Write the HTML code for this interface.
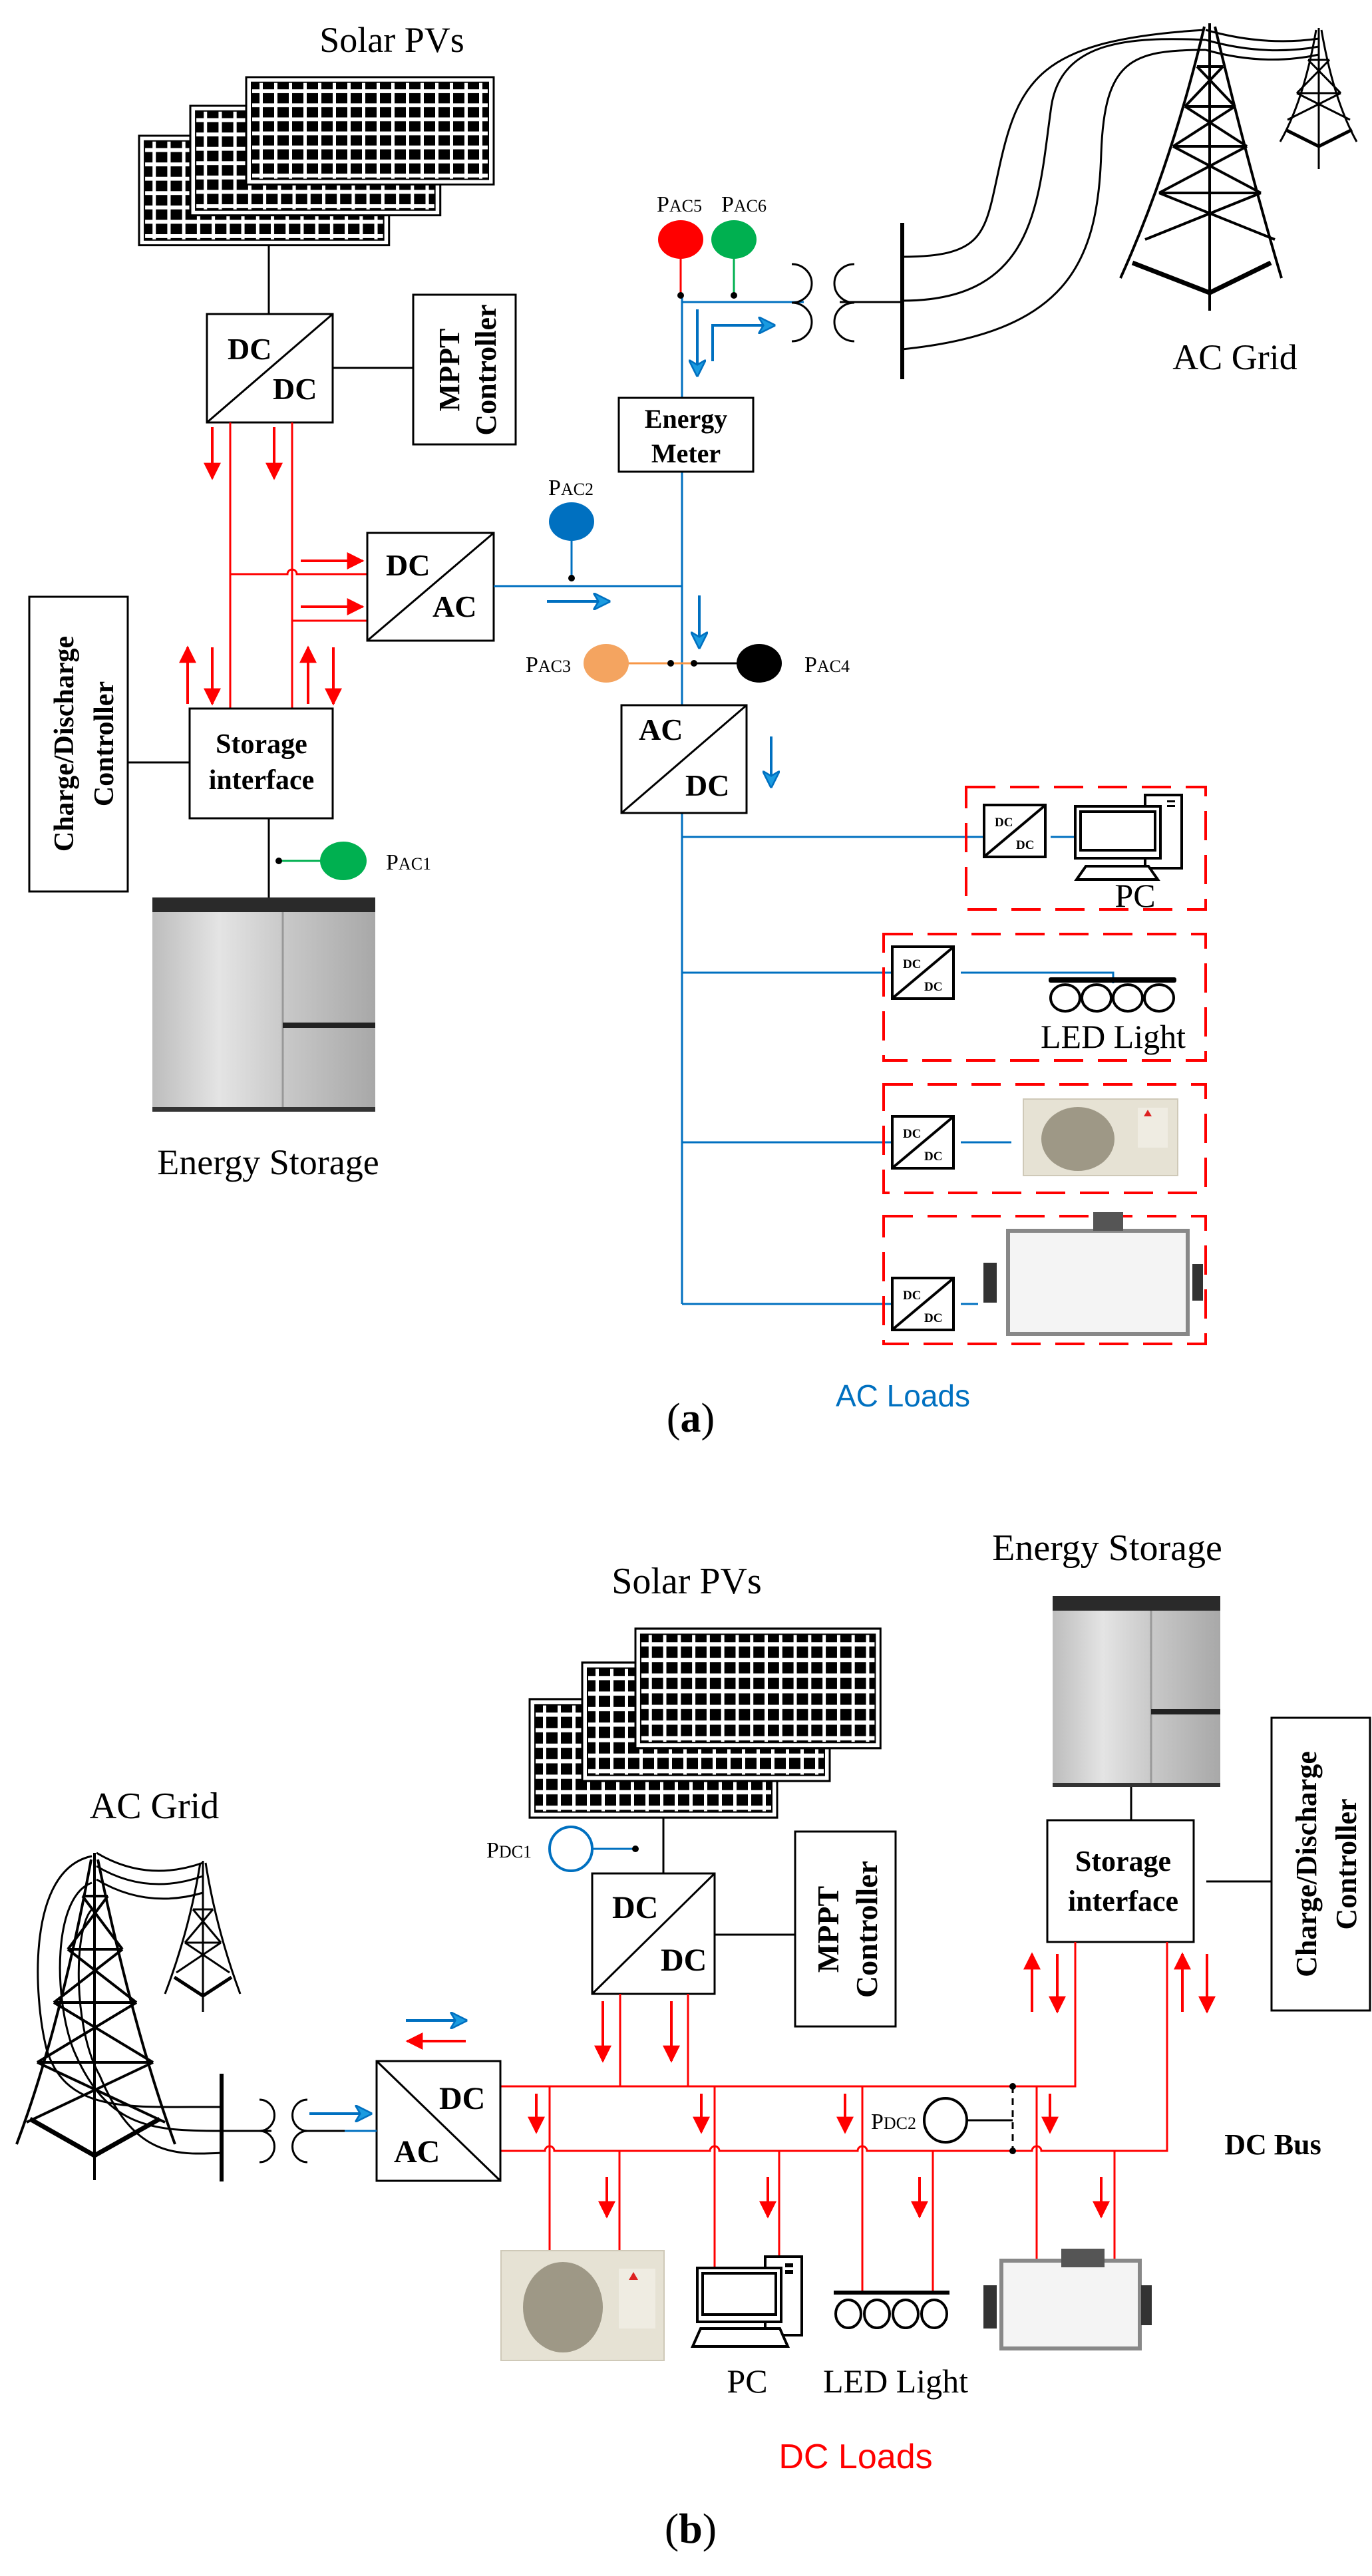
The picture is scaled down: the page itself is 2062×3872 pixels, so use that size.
<!DOCTYPE html>
<html><head><meta charset="utf-8"><style>
html,body{margin:0;padding:0;background:#fff}
svg{display:block}
text{font-family:"Liberation Serif",serif}
</style></head><body>
<svg width="2062" height="3872" viewBox="0 0 2062 3872" xmlns="http://www.w3.org/2000/svg">
<defs>
<pattern id="pv" x="0" y="0" width="22" height="22" patternUnits="userSpaceOnUse"><rect x="3" y="3" width="17" height="16" fill="#000"/></pattern>
<linearGradient id="bat" x1="0" x2="1" y1="0" y2="0"><stop offset="0" stop-color="#bdbdbd"/><stop offset="0.3" stop-color="#e4e4e4"/><stop offset="0.6" stop-color="#c8c8c8"/><stop offset="1" stop-color="#a8a8a8"/></linearGradient>
<marker id="rh" viewBox="0 0 10 10" refX="9" refY="5" markerWidth="26" markerHeight="26" markerUnits="userSpaceOnUse" orient="auto"><path d="M0,0 L10,5 L0,10 Z" fill="#f00"/></marker>
<marker id="bh" viewBox="0 0 10 10" refX="9" refY="5" markerWidth="26" markerHeight="26" markerUnits="userSpaceOnUse" orient="auto"><path d="M0,0 L10,5 L0,10 L3,5 Z" fill="#1a9be0" stroke="#0070c0" stroke-width="1"/></marker>
<g id="pvp"><rect width="372" height="168" fill="#fff" stroke="#000" stroke-width="3"/><rect x="8" y="8" width="356" height="152" fill="url(#pv)" stroke="#000" stroke-width="2"/></g>
<g id="dcs"><rect width="92" height="78" fill="#fff" stroke="#000" stroke-width="4"/><line x1="2" y1="76" x2="90" y2="2" stroke="#000" stroke-width="4"/><text x="16" y="32" font-size="19" font-weight="bold">DC</text><text x="48" y="66" font-size="19" font-weight="bold">DC</text></g>
</defs>

<!-- ========== (a) ========== -->
<text x="589" y="78" font-size="54" text-anchor="middle">Solar PVs</text>
<use href="#pvp" x="209" y="204" transform="translate(209,204) scale(1.01,0.98) translate(-209,-204)"/>
<use href="#pvp" x="286" y="159" transform="translate(286,159) scale(1.01,0.98) translate(-286,-159)"/>
<use href="#pvp" x="370" y="116" transform="translate(370,116) scale(1.0,0.96) translate(-370,-116)"/>
<line x1="404" y1="369" x2="404" y2="472" stroke="#000" stroke-width="3"/>
<rect x="311" y="472" width="189" height="163" fill="#fff" stroke="#000" stroke-width="3"/>
<line x1="311" y1="635" x2="500" y2="472" stroke="#000" stroke-width="3"/>
<text x="342" y="540" font-size="46" font-weight="bold">DC</text>
<text x="410" y="600" font-size="46" font-weight="bold">DC</text>
<line x1="500" y1="553" x2="621" y2="553" stroke="#000" stroke-width="3"/>
<rect x="621" y="443" width="154" height="225" fill="#fff" stroke="#000" stroke-width="3"/>
<text transform="translate(690,556) rotate(-90)" font-size="44" font-weight="bold" text-anchor="middle">MPPT</text>
<text transform="translate(745,556) rotate(-90)" font-size="44" font-weight="bold" text-anchor="middle">Controller</text>

<g stroke="#f00" stroke-width="3" fill="none">
<line x1="346" y1="635" x2="346" y2="1065"/>
<line x1="439" y1="635" x2="439" y2="1065"/>
<path d="M346,863 L432,863 A7,7 0 0 1 446,863 L552,863"/>
<line x1="439" y1="933" x2="552" y2="933"/>
</g>
<g stroke="#f00" stroke-width="4" marker-end="url(#rh)">
<line x1="319" y1="642" x2="319" y2="719"/>
<line x1="412" y1="642" x2="412" y2="719"/>
<line x1="452" y1="843" x2="545" y2="843"/>
<line x1="452" y1="912" x2="545" y2="912"/>
<line x1="282" y1="1058" x2="282" y2="973"/>
<line x1="319" y1="973" x2="319" y2="1058"/>
<line x1="463" y1="1058" x2="463" y2="973"/>
<line x1="501" y1="973" x2="501" y2="1058"/>
</g>
<rect x="552" y="801" width="190" height="162" fill="#fff" stroke="#000" stroke-width="3"/>
<line x1="552" y1="963" x2="742" y2="801" stroke="#000" stroke-width="3"/>
<text x="580" y="865" font-size="46" font-weight="bold">DC</text>
<text x="650" y="927" font-size="46" font-weight="bold">AC</text>

<rect x="285" y="1065" width="215" height="165" fill="#fff" stroke="#000" stroke-width="3"/>
<text x="393" y="1132" font-size="42" font-weight="bold" text-anchor="middle">Storage</text>
<text x="393" y="1186" font-size="42" font-weight="bold" text-anchor="middle">interface</text>
<line x1="192" y1="1146" x2="285" y2="1146" stroke="#000" stroke-width="3"/>
<rect x="44" y="897" width="148" height="443" fill="#fff" stroke="#000" stroke-width="3"/>
<text transform="translate(110,1118) rotate(-90)" font-size="42" font-weight="bold" text-anchor="middle">Charge/Discharge</text>
<text transform="translate(170,1118) rotate(-90)" font-size="42" font-weight="bold" text-anchor="middle">Controller</text>
<line x1="404" y1="1230" x2="404" y2="1349" stroke="#000" stroke-width="3"/>
<line x1="419" y1="1294" x2="490" y2="1294" stroke="#00b050" stroke-width="3"/>
<circle cx="419" cy="1294" r="5" fill="#000"/>
<ellipse cx="516" cy="1294" rx="35" ry="29" fill="#00b050"/>
<text x="580" y="1307" font-size="34">P<tspan font-size="26">AC1</tspan></text>
<!-- battery a -->
<rect x="229" y="1349" width="335" height="322" fill="url(#bat)"/>
<rect x="229" y="1349" width="335" height="22" fill="#2a2a2a"/>
<line x1="425" y1="1371" x2="425" y2="1671" stroke="#999" stroke-width="3"/>
<rect x="425" y="1537" width="139" height="8" fill="#222"/>
<rect x="229" y="1664" width="335" height="7" fill="#333"/>
<text x="403" y="1765" font-size="54" text-anchor="middle">Energy Storage</text>

<!-- AC side a -->
<g stroke="#0070c0" stroke-width="3" fill="none">
<line x1="742" y1="881" x2="1025" y2="881"/>
<line x1="1025" y1="444" x2="1025" y2="1960"/>
<line x1="1025" y1="454" x2="1208" y2="454"/>
<line x1="1025" y1="1258" x2="1487" y2="1258"/>
<line x1="1579" y1="1258" x2="1616" y2="1258"/>
<line x1="1025" y1="1462" x2="1353" y2="1462"/>
<path d="M1444,1462 L1673,1462 L1673,1478"/>
<line x1="1025" y1="1717" x2="1353" y2="1717"/>
<line x1="1444" y1="1717" x2="1520" y2="1717"/>
<line x1="1025" y1="1960" x2="1353" y2="1960"/>
<line x1="1444" y1="1960" x2="1470" y2="1960"/>
</g>
<g stroke="#0070c0" stroke-width="4" fill="none" marker-end="url(#bh)">
<line x1="822" y1="904" x2="915" y2="904"/>
<path d="M1071,543 L1071,489 L1163,489"/>
<line x1="1048" y1="465" x2="1048" y2="564"/>
<line x1="1051" y1="895" x2="1051" y2="973"/>
<line x1="1159" y1="1107" x2="1159" y2="1182"/>
</g>
<line x1="859" y1="784" x2="859" y2="869" stroke="#0070c0" stroke-width="3"/>
<circle cx="859" cy="869" r="5" fill="#000"/>
<ellipse cx="859" cy="784" rx="34" ry="29" fill="#0070c0"/>
<text x="858" y="744" font-size="34" text-anchor="middle">P<tspan font-size="26">AC2</tspan></text>

<rect x="930" y="598" width="202" height="111" fill="#fff" stroke="#000" stroke-width="3"/>
<text x="1031" y="643" font-size="40" font-weight="bold" text-anchor="middle">Energy</text>
<text x="1031" y="695" font-size="40" font-weight="bold" text-anchor="middle">Meter</text>

<line x1="1023" y1="360" x2="1023" y2="444" stroke="#f00" stroke-width="3"/>
<line x1="1103" y1="360" x2="1103" y2="444" stroke="#00b050" stroke-width="3"/>
<circle cx="1023" cy="444" r="5" fill="#000"/><circle cx="1103" cy="444" r="5" fill="#000"/>
<ellipse cx="1023" cy="360" rx="34" ry="29" fill="#f00"/>
<ellipse cx="1103" cy="360" rx="34" ry="29" fill="#00b050"/>
<text x="1021" y="318" font-size="34" text-anchor="middle">P<tspan font-size="26">AC5</tspan></text>
<text x="1118" y="318" font-size="34" text-anchor="middle">P<tspan font-size="26">AC6</tspan></text>

<g stroke="#000" stroke-width="3" fill="none">
<path d="M1190,397 A30,29 0 0 1 1190,455 A30,29 0 0 1 1190,513"/>
<path d="M1284,397 A30,29 0 0 0 1284,455 A30,29 0 0 0 1284,513"/>
<line x1="1262" y1="454" x2="1356" y2="454"/>
<line x1="1356" y1="335" x2="1356" y2="570" stroke-width="6"/>
<path d="M1356,386 C1480,386 1480,350 1500,260 C1530,120 1560,60 1810,45"/>
<path d="M1356,452 C1560,452 1560,300 1580,160 C1595,60 1700,55 1812,60"/>
<path d="M1356,525 C1600,500 1650,400 1655,230 C1660,90 1700,75 1812,75"/>
<path d="M1812,45 Q1900,70 1982,58"/>
<path d="M1812,60 Q1900,85 1982,70"/>
<path d="M1812,75 Q1900,100 1982,82"/>
</g>
<!-- big tower a -->
<g stroke="#000" stroke-width="4" fill="none">
<path d="M1818,35 L1818,467"/>
<path d="M1810,40 Q1760,250 1684,418"/>
<path d="M1826,40 Q1876,250 1926,418"/>
<path d="M1799,100 L1838,100 M1781,160 L1856,160 M1763,220 L1874,220 M1742,290 L1895,290"/>
<path d="M1799,100 L1856,160 M1838,100 L1781,160 M1781,160 L1874,220 M1856,160 L1763,220 M1763,220 L1895,290 M1874,220 L1742,290 M1742,290 L1916,360 M1895,290 L1721,360"/>
<path d="M1702,395 L1818,440 L1910,395" stroke-width="7"/>
</g>
<g stroke="#000" stroke-width="3" fill="none">
<path d="M1982,42 L1982,254"/>
<path d="M1978,45 Q1960,150 1924,213"/><path d="M1986,45 Q2004,150 2039,213"/>
<path d="M1966,90 L1998,90 M1949,140 L2015,140 M1966,90 L2015,140 M1998,90 L1949,140 M1949,140 L2029,180 M2015,140 L1935,180"/>
<path d="M1932,195 L1982,220 L2032,195" stroke-width="5"/>
</g>
<text x="1856" y="555" font-size="54" text-anchor="middle">AC Grid</text>

<line x1="911" y1="997" x2="1141" y2="997" stroke="#f79646" stroke-width="3"/>
<line x1="1040" y1="997" x2="1141" y2="997" stroke="#000" stroke-width="3"/>
<circle cx="1008" cy="997" r="5" fill="#000"/><circle cx="1043" cy="997" r="5" fill="#000"/>
<ellipse cx="911" cy="997" rx="34" ry="29" fill="#f4a460"/>
<ellipse cx="1141" cy="997" rx="34" ry="29" fill="#000"/>
<text x="824" y="1010" font-size="34" text-anchor="middle">P<tspan font-size="26">AC3</tspan></text>
<text x="1243" y="1010" font-size="34" text-anchor="middle">P<tspan font-size="26">AC4</tspan></text>

<rect x="934" y="1060" width="188" height="162" fill="#fff" stroke="#000" stroke-width="3"/>
<line x1="934" y1="1222" x2="1122" y2="1060" stroke="#000" stroke-width="3"/>
<text x="960" y="1112" font-size="46" font-weight="bold">AC</text>
<text x="1030" y="1196" font-size="46" font-weight="bold">DC</text>

<g fill="none" stroke="#f00" stroke-width="4" stroke-dasharray="44,22">
<rect x="1452" y="1183" width="360" height="184"/>
<rect x="1328" y="1404" width="484" height="190"/>
<rect x="1328" y="1630" width="484" height="163"/>
<rect x="1328" y="1828" width="484" height="192"/>
</g>
<use href="#dcs" x="1479" y="1210"/>
<use href="#dcs" x="1341" y="1423"/>
<use href="#dcs" x="1341" y="1678"/>
<use href="#dcs" x="1341" y="1921"/>
<!-- PC a -->
<g stroke="#000" stroke-width="4" fill="#fff">
<rect x="1721" y="1195" width="55" height="110"/>
<rect x="1616" y="1212" width="128" height="78"/>
<rect x="1624" y="1220" width="112" height="58"/>
<path d="M1618,1322 L1632,1302 L1726,1302 L1740,1322 Z"/>
</g>
<rect x="1754" y="1203" width="12" height="3" fill="#000"/><rect x="1754" y="1210" width="12" height="3" fill="#000"/>
<text x="1706" y="1363" font-size="50" text-anchor="middle">PC</text>
<!-- LED a -->
<rect x="1576" y="1469" width="192" height="8" rx="3" fill="#000"/>
<g stroke="#000" stroke-width="4" fill="#fff">
<ellipse cx="1601" cy="1500" rx="22" ry="20"/><ellipse cx="1648" cy="1500" rx="22" ry="20"/><ellipse cx="1695" cy="1500" rx="22" ry="20"/><ellipse cx="1742" cy="1500" rx="22" ry="20"/>
</g>
<text x="1673" y="1575" font-size="50" text-anchor="middle">LED Light</text>
<!-- AC unit a -->
<rect x="1538" y="1652" width="232" height="115" fill="#e6e2d4" stroke="#cfc9b8" stroke-width="2"/>
<ellipse cx="1620" cy="1712" rx="55" ry="48" fill="#9e9886"/>
<rect x="1710" y="1665" width="45" height="60" fill="#efece2"/>
<path d="M1725,1668 l6,10 l-12,0 z" fill="#d22"/>
<!-- whiteboard a -->
<rect x="1515" y="1850" width="270" height="155" fill="#f4f4f4" stroke="#888" stroke-width="6"/>
<rect x="1643" y="1822" width="45" height="28" fill="#555"/>
<rect x="1478" y="1898" width="20" height="60" fill="#333"/>
<rect x="1792" y="1900" width="16" height="55" fill="#333"/>
<text x="1357" y="2114" font-size="46" fill="#0070c0" text-anchor="middle" style="font-family:'Liberation Sans',sans-serif">AC Loads</text>
<text x="1038" y="2152" font-size="62" text-anchor="middle">(<tspan font-weight="bold">a</tspan>)</text>

<!-- ========== (b) ========== -->
<text x="1664" y="2345" font-size="56" text-anchor="middle">Energy Storage</text>
<text x="1032" y="2395" font-size="56" text-anchor="middle">Solar PVs</text>
<text x="232" y="2733" font-size="56" text-anchor="middle">AC Grid</text>
<use href="#pvp" transform="translate(796,2554) scale(1.0,1.06)"/>
<use href="#pvp" transform="translate(875,2499) scale(1.0,1.06)"/>
<use href="#pvp" transform="translate(955,2448) scale(0.99,1.07)"/>
<line x1="997" y1="2733" x2="997" y2="2816" stroke="#000" stroke-width="3"/>
<ellipse cx="858" cy="2779" rx="32" ry="33" fill="#fff" stroke="#0070c0" stroke-width="4"/>
<line x1="890" y1="2779" x2="955" y2="2779" stroke="#0070c0" stroke-width="3"/>
<circle cx="955" cy="2779" r="5" fill="#000"/>
<text x="765" y="2792" font-size="34" text-anchor="middle">P<tspan font-size="26">DC1</tspan></text>
<rect x="890" y="2816" width="184" height="181" fill="#fff" stroke="#000" stroke-width="3"/>
<line x1="890" y1="2997" x2="1074" y2="2816" stroke="#000" stroke-width="3"/>
<text x="920" y="2883" font-size="48" font-weight="bold">DC</text>
<text x="993" y="2962" font-size="48" font-weight="bold">DC</text>
<line x1="1074" y1="2908" x2="1195" y2="2908" stroke="#000" stroke-width="3"/>
<rect x="1195" y="2753" width="151" height="293" fill="#fff" stroke="#000" stroke-width="3"/>
<text transform="translate(1260,2900) rotate(-90)" font-size="46" font-weight="bold" text-anchor="middle">MPPT</text>
<text transform="translate(1318,2900) rotate(-90)" font-size="46" font-weight="bold" text-anchor="middle">Controller</text>
<!-- battery b -->
<rect x="1582" y="2399" width="252" height="287" fill="url(#bat)"/>
<rect x="1582" y="2399" width="252" height="22" fill="#2a2a2a"/>
<line x1="1730" y1="2421" x2="1730" y2="2686" stroke="#999" stroke-width="3"/>
<rect x="1730" y="2569" width="104" height="8" fill="#222"/>
<rect x="1582" y="2680" width="252" height="6" fill="#333"/>
<line x1="1700" y1="2686" x2="1700" y2="2736" stroke="#000" stroke-width="3"/>
<rect x="1574" y="2736" width="220" height="183" fill="#fff" stroke="#000" stroke-width="3"/>
<text x="1688" y="2812" font-size="44" font-weight="bold" text-anchor="middle">Storage</text>
<text x="1688" y="2872" font-size="44" font-weight="bold" text-anchor="middle">interface</text>
<line x1="1813" y1="2828" x2="1911" y2="2828" stroke="#000" stroke-width="3"/>
<rect x="1911" y="2582" width="148" height="440" fill="#fff" stroke="#000" stroke-width="3"/>
<text transform="translate(1978,2802) rotate(-90)" font-size="44" font-weight="bold" text-anchor="middle">Charge/Discharge</text>
<text transform="translate(2038,2802) rotate(-90)" font-size="44" font-weight="bold" text-anchor="middle">Controller</text>

<!-- DC bus b -->
<g stroke="#f00" stroke-width="3" fill="none">
<path d="M752,3136 L1616,3136 L1616,2919"/>
<path d="M752,3233 L819,3233 A7,7 0 0 1 833,3233 L1067,3233 A7,7 0 0 1 1081,3233 L1289,3233 A7,7 0 0 1 1303,3233 L1551,3233 A7,7 0 0 1 1565,3233 L1754,3233 L1754,2919"/>
<line x1="932" y1="2997" x2="932" y2="3136"/>
<line x1="1034" y1="2997" x2="1034" y2="3136"/>
<line x1="826" y1="3136" x2="826" y2="3383"/>
<line x1="931" y1="3233" x2="931" y2="3383"/>
<line x1="1074" y1="3136" x2="1074" y2="3409"/>
<line x1="1171" y1="3233" x2="1171" y2="3392"/>
<line x1="1296" y1="3136" x2="1296" y2="3446"/>
<line x1="1402" y1="3233" x2="1402" y2="3446"/>
<line x1="1558" y1="3136" x2="1558" y2="3395"/>
<line x1="1675" y1="3233" x2="1675" y2="3420"/>
</g>
<g stroke="#f00" stroke-width="4" marker-end="url(#rh)">
<line x1="906" y1="3008" x2="906" y2="3098"/>
<line x1="1009" y1="3008" x2="1009" y2="3098"/>
<line x1="1551" y1="3024" x2="1551" y2="2937"/>
<line x1="1589" y1="2937" x2="1589" y2="3024"/>
<line x1="1777" y1="3024" x2="1777" y2="2937"/>
<line x1="1814" y1="2937" x2="1814" y2="3024"/>
<line x1="806" y1="3147" x2="806" y2="3205"/>
<line x1="1054" y1="3147" x2="1054" y2="3205"/>
<line x1="1270" y1="3147" x2="1270" y2="3205"/>
<line x1="1578" y1="3147" x2="1578" y2="3205"/>
<line x1="912" y1="3272" x2="912" y2="3332"/>
<line x1="1154" y1="3272" x2="1154" y2="3332"/>
<line x1="1382" y1="3272" x2="1382" y2="3332"/>
<line x1="1655" y1="3272" x2="1655" y2="3332"/>
<line x1="700" y1="3068" x2="612" y2="3068"/>
</g>
<ellipse cx="1421" cy="3187" rx="32" ry="33" fill="#fff" stroke="#000" stroke-width="4"/>
<line x1="1453" y1="3187" x2="1522" y2="3187" stroke="#000" stroke-width="3"/>
<line x1="1522" y1="3136" x2="1522" y2="3233" stroke="#000" stroke-width="3" stroke-dasharray="10,8"/>
<circle cx="1522" cy="3136" r="5" fill="#000"/><circle cx="1522" cy="3233" r="5" fill="#000"/>
<text x="1343" y="3200" font-size="34" text-anchor="middle">P<tspan font-size="26">DC2</tspan></text>
<text x="1913" y="3238" font-size="44" font-weight="bold" text-anchor="middle">DC Bus</text>

<rect x="566" y="3098" width="186" height="180" fill="#fff" stroke="#000" stroke-width="3"/>
<line x1="566" y1="3098" x2="752" y2="3278" stroke="#000" stroke-width="3"/>
<text x="660" y="3170" font-size="48" font-weight="bold">DC</text>
<text x="592" y="3250" font-size="48" font-weight="bold">AC</text>
<g stroke="#0070c0" stroke-width="4" marker-end="url(#bh)">
<line x1="610" y1="3037" x2="700" y2="3037"/>
<line x1="465" y1="3177" x2="557" y2="3177"/>
</g>
<line x1="462" y1="3203" x2="518" y2="3203" stroke="#000" stroke-width="3"/>
<line x1="518" y1="3203" x2="566" y2="3203" stroke="#0070c0" stroke-width="3"/>
<g stroke="#000" stroke-width="3" fill="none">
<path d="M390,3156 A22,23 0 0 1 390,3203 A22,23 0 0 1 390,3250"/>
<path d="M462,3156 A22,23 0 0 0 462,3203 A22,23 0 0 0 462,3250"/>
<line x1="333" y1="3203" x2="408" y2="3203"/>
<line x1="333" y1="3117" x2="333" y2="3279" stroke-width="6"/>
<path d="M138,2790 C40,2810 50,3000 70,3080 C100,3180 200,3166 333,3167"/>
<path d="M138,2830 C80,2850 80,3000 110,3080 C160,3200 230,3203 333,3203"/>
<path d="M138,2870 C110,2900 110,3050 150,3120 C200,3240 260,3240 333,3236"/>
<path d="M145,2785 Q220,2830 305,2800"/>
<path d="M145,2805 Q220,2850 305,2820"/>
<path d="M145,2825 Q220,2870 305,2845"/>
</g>
<!-- big tower b -->
<g stroke="#000" stroke-width="4" fill="none">
<path d="M142,2785 L142,3277"/>
<path d="M137,2795 Q90,3050 25,3223"/>
<path d="M147,2795 Q200,3050 263,3223"/>
<path d="M124,2850 L162,2850 M102,2930 L184,2930 M81,3010 L205,3010 M56,3100 L230,3100"/>
<path d="M124,2850 L184,2930 M162,2850 L102,2930 M102,2930 L205,3010 M184,2930 L81,3010 M81,3010 L230,3100 M205,3010 L56,3100 M56,3100 L248,3190 M230,3100 L40,3190"/>
<path d="M45,3185 L142,3240 L240,3185" stroke-width="7"/>
</g>
<g stroke="#000" stroke-width="3" fill="none">
<path d="M305,2797 L305,3024"/>
<path d="M301,2800 Q285,2900 248,2997"/><path d="M309,2800 Q325,2900 361,2997"/>
<path d="M290,2870 L320,2870 M278,2920 L332,2920 M290,2870 L332,2920 M320,2870 L278,2920 M278,2920 L345,2965 M332,2920 L265,2965"/>
<path d="M262,2972 L305,3000 L348,2972" stroke-width="5"/>
</g>

<!-- loads b -->
<rect x="753" y="3383" width="245" height="165" fill="#e6e2d4" stroke="#cfc9b8" stroke-width="2"/>
<ellipse cx="846" cy="3468" rx="60" ry="68" fill="#9e9886"/>
<rect x="930" y="3410" width="55" height="90" fill="#efece2"/>
<path d="M952,3415 l7,12 l-14,0 z" fill="#d22"/>
<g stroke="#000" stroke-width="4" fill="#fff">
<rect x="1150" y="3392" width="55" height="118"/>
<rect x="1048" y="3409" width="126" height="81"/>
<rect x="1056" y="3417" width="110" height="62"/>
<path d="M1041,3527 L1053,3500 L1172,3500 L1184,3527 Z"/>
</g>
<rect x="1180" y="3402" width="12" height="6" fill="#000"/><rect x="1180" y="3412" width="12" height="6" fill="#000"/>
<rect x="1253" y="3443" width="174" height="6" fill="#000"/>
<g stroke="#000" stroke-width="4" fill="#fff">
<ellipse cx="1275" cy="3478" rx="19" ry="21"/><ellipse cx="1318" cy="3478" rx="19" ry="21"/><ellipse cx="1361" cy="3478" rx="19" ry="21"/><ellipse cx="1404" cy="3478" rx="19" ry="21"/>
</g>
<rect x="1505" y="3398" width="208" height="132" fill="#f4f4f4" stroke="#888" stroke-width="6"/>
<rect x="1595" y="3380" width="65" height="28" fill="#555"/>
<rect x="1478" y="3435" width="20" height="65" fill="#333"/>
<rect x="1715" y="3435" width="16" height="60" fill="#333"/>
<text x="1123" y="3596" font-size="50" text-anchor="middle">PC</text>
<text x="1346" y="3596" font-size="50" text-anchor="middle">LED Light</text>
<text x="1286" y="3710" font-size="52" fill="#f00" text-anchor="middle" style="font-family:'Liberation Sans',sans-serif">DC Loads</text>
<text x="1038" y="3822" font-size="64" text-anchor="middle">(<tspan font-weight="bold">b</tspan>)</text>
</svg>
</body></html>
